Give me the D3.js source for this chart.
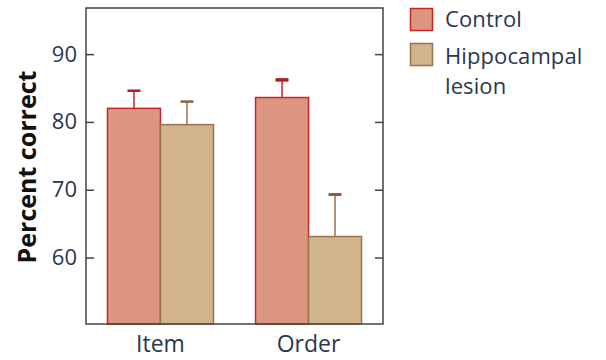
<!DOCTYPE html>
<html>
<head>
<meta charset="utf-8">
<script src="https://cdn.jsdelivr.net/npm/d3@7"></script>
<style>
  html, body { margin: 0; padding: 0; background: #fff; }
  svg { display: block; }
</style>
</head>
<body>
<svg id="chart" width="606" height="360"></svg>
<script>
// Task conditions and groups
const categories = ["Item", "Order"];
const groups = ["Control", "Hippocampal lesion"];
const controlValues = [82.0, 83.6];
const controlErrors = [2.6, 2.6];
const lesionValues = [79.6, 63.1];
const lesionErrors = [3.4, 6.2];
const yTicks = [60, 70, 80, 90];

const series = [
  { name: groups[0], values: controlValues, errors: controlErrors,
    fill: "#dc9680", stroke: "#c8242c", cap: "#b81820", capWidth: [2.5, 3.5] },
  { name: groups[1], values: lesionValues, errors: lesionErrors,
    fill: "#d2b48c", stroke: "#9b7050", cap: "#8e6040", capWidth: [2.5, 3] }
];

const svg = d3.select("#chart");
const frame = { left: 86, right: 383, top: 8, bottom: 324 };

const y = d3.scaleLinear().domain([50.2, 96.8]).range([frame.bottom, frame.top]);
const x0 = d3.scaleBand().domain(categories)
  .range([frame.left, frame.right]).paddingInner(0.284).paddingOuter(0.145);
const x1 = d3.scaleBand().domain(groups).range([0, x0.bandwidth()]);

const textColor = "#2b3650";
const font = "'Open Sans', 'Noto Sans', sans-serif";

// Bars
series.forEach(s => {
  const g = svg.append("g");
  g.selectAll("rect").data(categories).join("rect")
    .attr("x", (c) => x0(c) + x1(s.name))
    .attr("y", (c, i) => y(s.values[i]))
    .attr("width", x1.bandwidth())
    .attr("height", (c, i) => y(y.domain()[0]) - y(s.values[i]))
    .attr("fill", s.fill)
    .attr("stroke", s.stroke)
    .attr("stroke-width", 1.5);
  // Error bars (upper only)
  g.selectAll("line.err").data(categories).join("line")
    .attr("class", "err")
    .attr("x1", (c) => x0(c) + x1(s.name) + x1.bandwidth() / 2)
    .attr("x2", (c) => x0(c) + x1(s.name) + x1.bandwidth() / 2)
    .attr("y1", (c, i) => y(s.values[i]))
    .attr("y2", (c, i) => y(s.values[i] + s.errors[i]))
    .attr("stroke", s.stroke)
    .attr("stroke-width", 1.5);
  g.selectAll("line.cap").data(categories).join("line")
    .attr("class", "cap")
    .attr("x1", (c) => x0(c) + x1(s.name) + x1.bandwidth() / 2 - 6.5)
    .attr("x2", (c) => x0(c) + x1(s.name) + x1.bandwidth() / 2 + 6.5)
    .attr("y1", (c, i) => y(s.values[i] + s.errors[i]))
    .attr("y2", (c, i) => y(s.values[i] + s.errors[i]))
    .attr("stroke", s.cap)
    .attr("stroke-width", (c, i) => s.capWidth[i]);
});

// Frame
svg.append("rect")
  .attr("x", frame.left).attr("y", frame.top)
  .attr("width", frame.right - frame.left)
  .attr("height", frame.bottom - frame.top)
  .attr("fill", "none").attr("stroke", "#444").attr("stroke-width", 1.5);

// Left axis with inward ticks
const leftAxis = svg.append("g")
  .attr("transform", `translate(${frame.left},0)`)
  .call(d3.axisLeft(y).tickValues(yTicks).tickSizeInner(-8).tickSizeOuter(0).tickPadding(10));
leftAxis.select(".domain").remove();
leftAxis.selectAll(".tick line").attr("stroke", "#444").attr("stroke-width", 1.5);
leftAxis.selectAll(".tick text")
  .attr("x", -9)
  .attr("fill", textColor)
  .style("font-family", font)
  .style("font-size", "22px");

// Right axis with inward ticks, no labels
const rightAxis = svg.append("g")
  .attr("transform", `translate(${frame.right},0)`)
  .call(d3.axisRight(y).tickValues(yTicks).tickSizeInner(-8).tickSizeOuter(0).tickFormat(""));
rightAxis.select(".domain").remove();
rightAxis.selectAll(".tick line").attr("stroke", "#444").attr("stroke-width", 1.5);

// Category labels
const bottomAxis = svg.append("g")
  .attr("transform", `translate(0,${frame.bottom})`)
  .call(d3.axisBottom(x0).tickSize(0).tickPadding(8));
bottomAxis.select(".domain").remove();
bottomAxis.selectAll(".tick text")
  .attr("fill", textColor)
  .attr("dy", "0.85em")
  .style("font-family", font)
  .style("font-size", "23px");

// Y-axis title
svg.append("text")
  .attr("transform", `translate(36,167) rotate(-90)`)
  .attr("text-anchor", "middle")
  .attr("fill", "#111")
  .style("font-family", font)
  .style("font-weight", "bold")
  .style("font-size", "25px")
  .text("Percent correct");

// Legend: swatch plus label; the lesion label wraps onto two lines
const legend = svg.append("g").attr("transform", "translate(410,8)");
const legendLines = [["Control"], ["Hippocampal", "lesion"]];
series.forEach((s, i) => {
  const row = legend.append("g").attr("transform", `translate(0,${i * 35})`);
  row.append("rect")
    .attr("x", 0.5).attr("y", 0.5).attr("width", 22).attr("height", 22)
    .attr("fill", s.fill).attr("stroke", s.stroke).attr("stroke-width", 1.5);
  legendLines[i].forEach((w, k) => {
    row.append("text")
      .attr("x", 35).attr("y", (i === 0 ? 19 : 21) + k * 30)
      .attr("fill", textColor)
      .style("font-family", font)
      .style("font-size", "22px")
      .style("letter-spacing", "0.1px")
      .text(w);
  });
});
</script>
</body>
</html>
